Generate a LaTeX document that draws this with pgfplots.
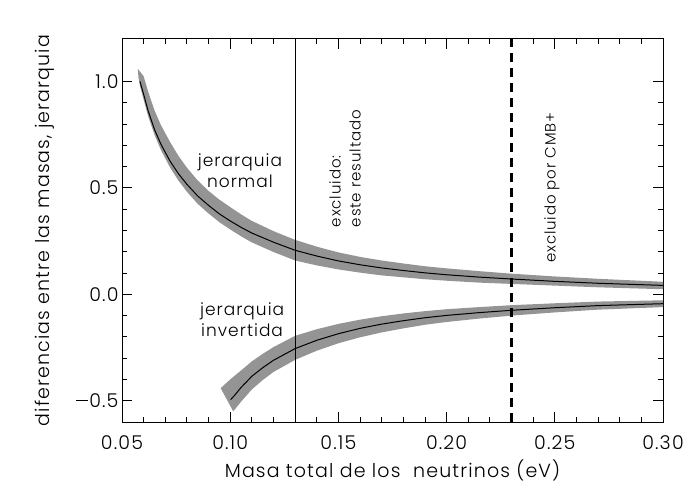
\documentclass[border=0pt]{standalone}
\usepackage{pgfplots}
\pgfplotsset{compat=1.18}
\usepackage{fontspec}
\setmainfont{Poppins}[UprightFont={* Light}, LetterSpace=6]

\definecolor{banda}{gray}{0.58}
\newcommand{\menos}{\rule[0.33em]{0.62em}{0.055em}\hspace{0.08em}}

\begin{document}
\begin{tikzpicture}
\path[use as bounding box] (0,0) rectangle (700pt,500pt);
\begin{axis}[
    at={(122pt,78pt)}, anchor=south west,
    scale only axis, width=541pt, height=383pt,
    xmin=0.05, xmax=0.30, ymin=-0.6, ymax=1.2,
    xtick={0.05,0.10,0.15,0.20,0.25,0.30},
    xticklabels={0.05,0.10,0.15,0.20,0.25,0.30},
    ytick={-0.5,0,0.5,1.0},
    yticklabels={\menos0.5,0.0,0.5,1.0},
    minor x tick num=4, minor y tick num=4,
    tick align=inside, tick pos=both,
    major tick length=10pt, minor tick length=5pt,
    every tick/.style={black, line width=0.9pt},
    axis line style={line width=1pt},
    tick label style={font=\fontsize{19}{21}\selectfont},
    xticklabel style={yshift=-10pt},
    label style={font=\fontsize{19}{21}\selectfont},
    xlabel={Masa total de los\ \ neutrinos (eV)},
    ylabel={diferencias entre las masas, jerarquia},
    xlabel style={at={(axis description cs:0.5,-0.127)}, anchor=center},
    ylabel style={at={(axis description cs:-0.143,0.5)}, anchor=center},
]

% banda jerarquia normal
\addplot[fill=banda, draw=none] coordinates {
 (0.0573,1.06) (0.0600,1.025) (0.0620,0.955) (0.0650,0.865) (0.0680,0.795)
 (0.0722,0.716) (0.0760,0.652) (0.0800,0.595) (0.0850,0.535) (0.0900,0.486)
 (0.0950,0.445) (0.1000,0.410) (0.1050,0.376) (0.1100,0.345) (0.1200,0.297)
 (0.1300,0.256) (0.1400,0.224) (0.1500,0.197) (0.1600,0.176) (0.1700,0.159)
 (0.1800,0.145) (0.1900,0.132) (0.2000,0.122) (0.2150,0.109) (0.2300,0.097)
 (0.2500,0.084) (0.2700,0.073) (0.3000,0.059)
 (0.3000,0.024) (0.2700,0.033) (0.2500,0.041) (0.2300,0.049) (0.2150,0.055)
 (0.2000,0.064) (0.1900,0.071) (0.1800,0.080) (0.1700,0.089) (0.1600,0.102)
 (0.1500,0.117) (0.1400,0.136) (0.1300,0.159) (0.1200,0.199) (0.1100,0.244)
 (0.1050,0.273) (0.1000,0.305) (0.0950,0.339) (0.0900,0.380) (0.0850,0.425)
 (0.0800,0.482) (0.0760,0.536) (0.0722,0.596) (0.0680,0.678) (0.0650,0.750)
 (0.0620,0.840) (0.0600,0.915) (0.0583,0.980) (0.0576,1.020)
};

% banda jerarquia invertida
\addplot[fill=banda, draw=none] coordinates {
 (0.0956,-0.441) (0.1000,-0.400) (0.1050,-0.358) (0.1100,-0.315) (0.1150,-0.280)
 (0.1200,-0.248) (0.1300,-0.195) (0.1400,-0.164) (0.1500,-0.139) (0.1600,-0.119)
 (0.1700,-0.103) (0.1800,-0.090) (0.1900,-0.079) (0.2000,-0.070) (0.2150,-0.060)
 (0.2300,-0.051) (0.2500,-0.042) (0.2700,-0.034) (0.3000,-0.028)
 (0.3000,-0.060) (0.2700,-0.072) (0.2500,-0.085) (0.2300,-0.100) (0.2150,-0.114)
 (0.2000,-0.130) (0.1900,-0.143) (0.1800,-0.160) (0.1700,-0.179) (0.1600,-0.202)
 (0.1500,-0.230) (0.1400,-0.265) (0.1300,-0.308) (0.1200,-0.365) (0.1150,-0.403)
 (0.1100,-0.447) (0.1050,-0.505) (0.1014,-0.550)
};

% jerarquia normal
\addplot[black, line width=1pt] coordinates {
 (0.0583,1.000) (0.0600,0.940) (0.0620,0.865) (0.0650,0.775) (0.0680,0.705)
 (0.0722,0.626) (0.0760,0.568) (0.0800,0.517) (0.0850,0.462) (0.0900,0.418)
 (0.0950,0.378) (0.1000,0.345) (0.1050,0.315) (0.1100,0.288) (0.1200,0.245)
 (0.1300,0.207) (0.1400,0.180) (0.1500,0.157) (0.1600,0.139) (0.1700,0.124)
 (0.1800,0.112) (0.1900,0.101) (0.2000,0.092) (0.2150,0.081) (0.2300,0.072)
 (0.2500,0.061) (0.2700,0.052) (0.3000,0.042)
};

% jerarquia invertida
\addplot[black, line width=1pt] coordinates {
 (0.1002,-0.495) (0.1020,-0.475) (0.1050,-0.438) (0.1100,-0.385) (0.1150,-0.345)
 (0.1200,-0.310) (0.1300,-0.255) (0.1400,-0.216) (0.1500,-0.185) (0.1600,-0.160)
 (0.1700,-0.140) (0.1800,-0.124) (0.1900,-0.110) (0.2000,-0.099) (0.2150,-0.086)
 (0.2300,-0.075) (0.2500,-0.063) (0.2700,-0.053) (0.3000,-0.044)
};

% limites
\addplot[black, line width=0.9pt] coordinates {(0.13,-0.6) (0.13,1.2)};
\addplot[black, line width=2.2pt, dash pattern=on 9pt off 6pt] coordinates {(0.23,-0.6) (0.23,1.2)};

\node[align=center, font=\fontsize{17}{21}\selectfont] at (axis cs:0.1045,0.58) {jerarquia\\normal};
\node[align=center, font=\fontsize{17}{21}\selectfont] at (axis cs:0.1055,-0.121) {jerarquia\\invertida};
\node[rotate=90, anchor=west, align=left, font=\fontsize{15}{20}\selectfont] at (axis cs:0.1531,0.299) {excluido:\\este resultado};
\node[rotate=90, anchor=west, font=\fontsize{15}{20}\selectfont] at (axis cs:0.2487,0.131) {excluido por CMB+};
\end{axis}
\end{tikzpicture}
\end{document}
